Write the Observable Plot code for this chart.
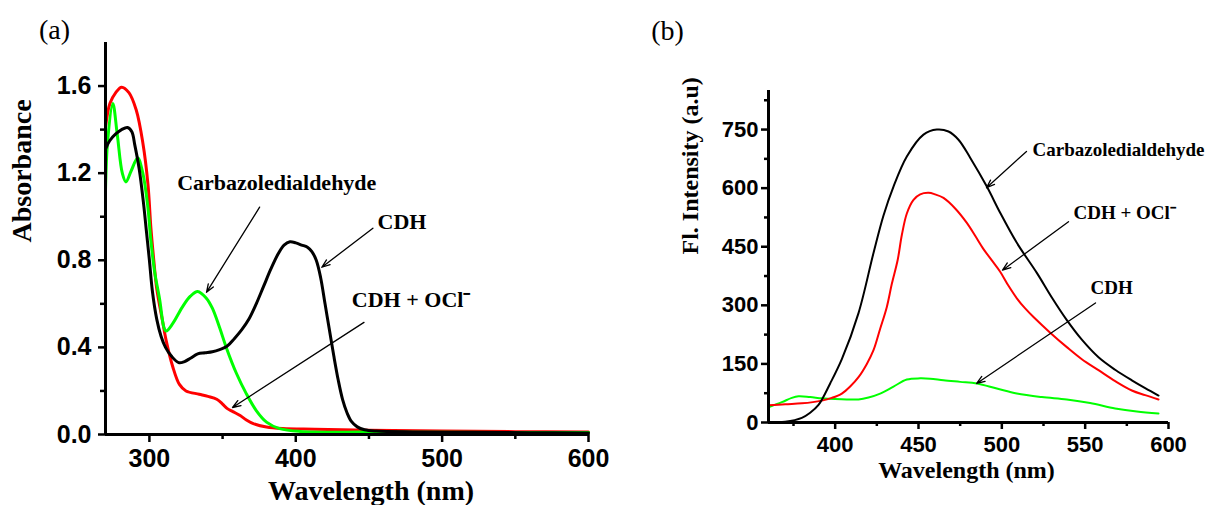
<!DOCTYPE html>
<html>
<head>
<meta charset="utf-8">
<script src="https://cdn.jsdelivr.net/npm/d3@7"></script>
<script src="https://cdn.jsdelivr.net/npm/@observablehq/plot@0.6"></script>
<style>
  body { margin: 0; background: #fff; }
  #fig { display: flex; width: 1205px; height: 505px; overflow: hidden; background: #fff; }
</style>
</head>
<body>
<div id="fig"></div>
<script>
// ---------- (a) UV-vis absorption ----------
const absCdhWl = [270, 273, 277, 281, 285, 288, 290, 293, 296, 298, 300, 302, 305, 308, 311, 315, 320, 324, 328, 333, 338, 343, 348, 353, 358, 363, 368, 373, 378, 383, 388, 392, 396, 400, 404, 408, 411, 414, 417, 420, 423, 426, 429, 432, 435, 438, 442, 447, 455, 480, 520, 560, 600];
const absCdh   = [1.31, 1.35, 1.38, 1.40, 1.41, 1.39, 1.33, 1.22, 1.06, 0.93, 0.80, 0.66, 0.53, 0.45, 0.40, 0.36, 0.33, 0.335, 0.35, 0.37, 0.375, 0.38, 0.39, 0.405, 0.44, 0.48, 0.53, 0.60, 0.68, 0.76, 0.83, 0.87, 0.885, 0.88, 0.87, 0.86, 0.84, 0.80, 0.72, 0.60, 0.48, 0.36, 0.25, 0.16, 0.10, 0.06, 0.035, 0.022, 0.016, 0.012, 0.010, 0.008, 0.007];

const absOclWl = [270, 273, 277, 281, 286, 291, 295.5, 299, 301, 303, 305, 309, 311.5, 316, 320.5, 325, 334, 340, 346, 350, 353, 357, 362, 366, 371, 380, 391, 413, 450, 500, 550, 600];
const absOcl   = [1.41, 1.52, 1.57, 1.595, 1.57, 1.49, 1.34, 1.15, 0.95, 0.80, 0.67, 0.52, 0.43, 0.31, 0.23, 0.20, 0.185, 0.175, 0.162, 0.14, 0.12, 0.105, 0.087, 0.068, 0.05, 0.034, 0.027, 0.024, 0.02, 0.016, 0.013, 0.011];

const absCarbWl = [270, 271.5, 275, 278, 281.5, 284, 287.5, 292, 295.5, 299, 301, 303.5, 307, 310, 311.5, 316, 322.5, 328, 333, 339, 343, 348, 352.5, 359.5, 366, 373, 380, 389, 403, 450, 500, 600];
const absCarb   = [1.12, 1.35, 1.52, 1.38, 1.20, 1.16, 1.21, 1.27, 1.20, 1.04, 0.89, 0.75, 0.62, 0.49, 0.475, 0.51, 0.585, 0.635, 0.657, 0.625, 0.58, 0.49, 0.40, 0.28, 0.19, 0.11, 0.057, 0.027, 0.014, 0.011, 0.010, 0.009];

const absXTicks = [300, 400, 500, 600];
const absXMinor = [350, 450, 550];
const absYTicks = [0, 0.4, 0.8, 1.2, 1.6];
const absYMinor = [0.2, 0.6, 1.0, 1.4];

const absLabels = ["Carbazoledialdehyde", "CDH", "CDH + OCl\u207B"];
const absLabelWl = [387, 472.6, 478.8];
const absLabelY  = [1.154, 0.975, 0.616];
const absArrowFrom = [[375.3, 1.044], [452.7, 0.947], [446.6, 0.515]];
const absArrowTo   = [[339, 0.653], [417.8, 0.768], [356.8, 0.124]];

// ---------- (b) fluorescence emission ----------
const flCarbWl = [360, 370, 380, 385, 390, 397, 404, 414, 423, 429, 435, 443, 453, 461, 468, 474, 481, 491, 499, 509, 521, 530, 539, 548, 558, 568, 578, 586, 594];
const flCarb   = [0, 2, 12, 25, 45, 100, 162, 280, 434, 530, 604, 681, 737, 750, 745, 724, 678, 604, 537, 460, 383, 320, 262, 212, 167, 135, 108, 88, 69];

const flOclWl = [360, 370, 380, 392, 398, 404, 409, 414, 419, 423, 427, 431, 434, 437.5, 440, 443, 447, 451, 456, 460, 465, 472, 479, 484, 489, 494, 499, 504, 509, 514, 519, 529, 539, 548, 558, 568, 578, 586, 594];
const flOcl   = [44, 47, 49, 56, 63, 74, 92, 116, 150, 185, 240, 296, 355, 416, 480, 535, 570, 584, 588, 584, 575, 548, 511, 478, 444, 415, 386, 350, 318, 292, 270, 230, 193, 162, 134, 106, 82, 70, 59];

const flCdhWl = [360, 368, 374, 378, 385, 392, 400, 407, 414, 420, 427, 435, 443, 451, 457, 465, 475, 485, 497, 509, 524, 539, 553, 568, 581, 594];
const flCdh   = [39, 52, 63, 67, 65, 62, 60, 59, 59, 64, 74, 92, 110, 113, 112, 108, 104, 100, 87, 74, 65, 59, 50, 36, 28, 23];

const flXTicks = [400, 450, 500, 550, 600];
const flXMinor = [375, 425, 475, 525, 575];
const flYTicks = [0, 150, 300, 450, 600, 750];
const flYMinor = [75, 225, 375, 525, 675, 825];

const flLabels = ["Carbazoledialdehyde", "CDH + OCl\u207B", "CDH"];
const flLabelWl = [518.4, 543, 553.2];
const flLabelY  = [699, 537, 344];
const flArrowFrom = [[514.8, 694], [540, 514], [556.2, 306]];
const flArrowTo   = [[490.8, 601], [500.4, 390], [484.9, 100]];

// ---------- helpers ----------
const sans = "'Liberation Sans', Arial, sans-serif";
const serif = "'Liberation Serif', 'Times New Roman', serif";
const pts = (xs, ys) => xs.map((x, i) => ({x, y: ys[i]}));
const notes = (labels, lx, ly, from, to) => labels.map((label, i) => ({
  label, tx: lx[i], ty: ly[i],
  x1: from[i][0], y1: from[i][1], x2: to[i][0], y2: to[i][1]
}));

const BLACK = "#000000", RED = "#ff0000", GREEN = "#00ff00";

// ---------- panel (a) ----------
const notesA = notes(absLabels, absLabelWl, absLabelY, absArrowFrom, absArrowTo);
const plotA = Plot.plot({
  width: 620, height: 505,
  marginLeft: 105, marginRight: 32, marginTop: 42, marginBottom: 71,
  x: {domain: [270, 600], label: null},
  y: {domain: [0, 1.8], label: null},
  style: {background: "white", overflow: "visible", color: "black"},
  marks: [
    Plot.axisX({ticks: absXTicks, tickSize: 8, tickPadding: 7, strokeWidth: 2.5, fontSize: 25, fontWeight: "bold", fontFamily: sans, fill: "black", label: null}),
    Plot.axisX({ticks: absXMinor, tickSize: 5, strokeWidth: 2.5, tickFormat: () => "", label: null}),
    Plot.axisY({ticks: absYTicks, tickSize: 7, tickPadding: 7, strokeWidth: 2.5, tickFormat: d3.format(".1f"), fontSize: 25, fontWeight: "bold", fontFamily: sans, fill: "black", label: null}),
    Plot.axisY({ticks: absYMinor, tickSize: 5, strokeWidth: 2.5, tickFormat: () => "", label: null}),
    Plot.line(pts(absOclWl, absOcl), {x: "x", y: "y", stroke: RED, strokeWidth: 3, curve: "catmull-rom"}),
    Plot.line(pts(absCarbWl, absCarb), {x: "x", y: "y", stroke: GREEN, strokeWidth: 3, curve: "catmull-rom"}),
    Plot.line(pts(absCdhWl, absCdh), {x: "x", y: "y", stroke: BLACK, strokeWidth: 3, curve: "catmull-rom"}),
    Plot.ruleX([270], {stroke: "black", strokeWidth: 3}),
    Plot.ruleY([0], {stroke: "black", strokeWidth: 3}),
    Plot.arrow(notesA, {x1: "x1", y1: "y1", x2: "x2", y2: "y2", stroke: "black", strokeWidth: 1.3, headLength: 10, headAngle: 40}),
    Plot.text(notesA, {x: "tx", y: "ty", text: "label", fontSize: 22, fontWeight: "bold", fontFamily: serif, fill: "black", textAnchor: "middle", lineAnchor: "middle"}),
    Plot.text(["Absorbance"], {frameAnchor: "left", rotate: -90, dx: -83, dy: 4, fontSize: 28, fontWeight: "bold", fontFamily: serif, fill: "black", lineAnchor: "middle"}),
    Plot.text(["Wavelength (nm)"], {frameAnchor: "bottom", dx: 24, dy: 57, fontSize: 28, fontWeight: "bold", fontFamily: serif, fill: "black", lineAnchor: "middle"}),
    Plot.text(["(a)"], {frameAnchor: "top-left", dx: -51, dy: -12, fontSize: 28, fontFamily: serif, fill: "black", textAnchor: "middle", lineAnchor: "middle"})
  ]
});

// ---------- panel (b) ----------
const notesB = notes(flLabels, flLabelWl, flLabelY, flArrowFrom, flArrowTo);
const plotB = Plot.plot({
  width: 585, height: 505,
  marginLeft: 148, marginRight: 37, marginTop: 90, marginBottom: 83,
  x: {domain: [360, 600], label: null},
  y: {domain: [0, 850], label: null},
  style: {background: "white", overflow: "visible", color: "black"},
  marks: [
    Plot.axisX({ticks: flXTicks, tickSize: 7, tickPadding: 7, strokeWidth: 2.5, fontSize: 22, fontWeight: "bold", fontFamily: sans, fill: "black", label: null}),
    Plot.axisX({ticks: flXMinor, tickSize: 4, strokeWidth: 2.5, tickFormat: () => "", label: null}),
    Plot.axisY({ticks: flYTicks, tickSize: 7, tickPadding: 3, strokeWidth: 2.5, fontSize: 22, fontWeight: "bold", fontFamily: sans, fill: "black", label: null}),
    Plot.axisY({ticks: flYMinor, tickSize: 4, strokeWidth: 2.5, tickFormat: () => "", label: null}),
    Plot.line(pts(flCdhWl, flCdh), {x: "x", y: "y", stroke: GREEN, strokeWidth: 2, curve: "catmull-rom"}),
    Plot.line(pts(flOclWl, flOcl), {x: "x", y: "y", stroke: RED, strokeWidth: 2, curve: "catmull-rom"}),
    Plot.line(pts(flCarbWl, flCarb), {x: "x", y: "y", stroke: BLACK, strokeWidth: 2, curve: "catmull-rom"}),
    Plot.ruleX([360], {stroke: "black", strokeWidth: 3}),
    Plot.ruleY([0], {stroke: "black", strokeWidth: 3}),
    Plot.arrow(notesB, {x1: "x1", y1: "y1", x2: "x2", y2: "y2", stroke: "black", strokeWidth: 1.3, headLength: 10, headAngle: 40}),
    Plot.text(notesB, {x: "tx", y: "ty", text: "label", fontSize: 19, fontWeight: "bold", fontFamily: serif, fill: "black", textAnchor: "start", lineAnchor: "middle"}),
    Plot.text(["Fl. Intensity (a.u)"], {frameAnchor: "left", rotate: -90, dx: -78, dy: -2, fontSize: 24, fontWeight: "bold", fontFamily: serif, fill: "black", lineAnchor: "middle"}),
    Plot.text(["Wavelength (nm)"], {frameAnchor: "bottom", dx: -2, dy: 48, fontSize: 24, fontWeight: "bold", fontFamily: serif, fill: "black", lineAnchor: "middle"}),
    Plot.text(["(b)"], {frameAnchor: "top-left", dx: -101, dy: -59, fontSize: 28, fontFamily: serif, fill: "black", textAnchor: "middle", lineAnchor: "middle"})
  ]
});

const fig = document.getElementById("fig");
fig.appendChild(plotA);
fig.appendChild(plotB);
</script>
</body>
</html>
